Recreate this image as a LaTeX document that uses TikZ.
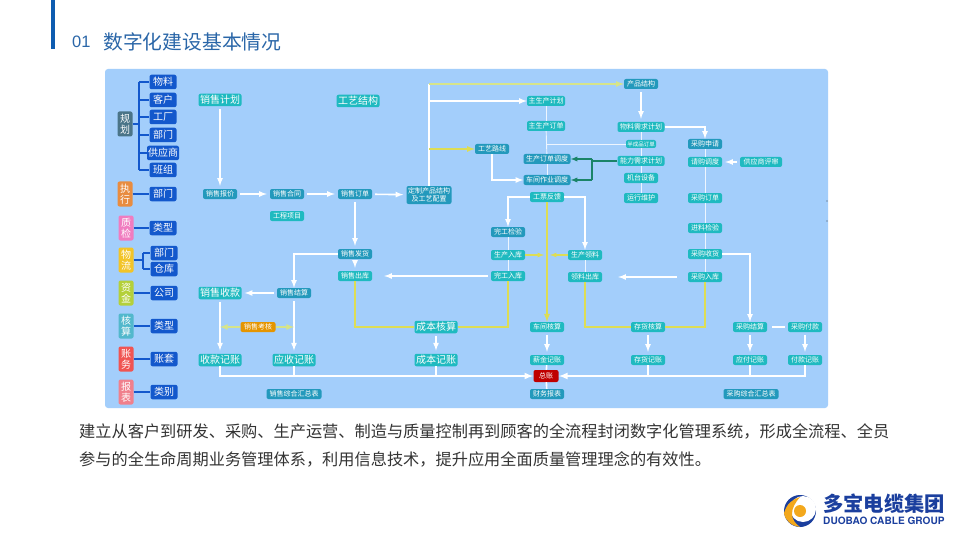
\documentclass[tikz,border=0pt]{standalone}
\usepackage{fontspec}
\setmainfont{Noto Sans CJK SC}
\newfontfamily\latinbold{TeX Gyre Heros}
\newfontfamily\latinplain{Liberation Sans}
\usepackage{xcolor}
\usetikzlibrary{arrows, positioning, calc}
\definecolor{panelblue}{HTML}{A3CEFB}
\definecolor{tealbright}{HTML}{1FBAC0}
\definecolor{tealdark}{HTML}{2399BC}
\definecolor{treeblue}{HTML}{1358CC}
\definecolor{barblue}{HTML}{0E5CB0}
\definecolor{titleblue}{HTML}{2A66A8}
\definecolor{paleyellow}{HTML}{D6E48A}
\definecolor{strongyellow}{HTML}{DDDD55}
\definecolor{capgreen}{HTML}{1A8468}
\definecolor{logoblue}{HTML}{1B3F9E}
\definecolor{logogold}{HTML}{F3A81C}
\definecolor{sideslate}{HTML}{4A7488}
\definecolor{sideorange}{HTML}{E88C40}
\definecolor{sidepink}{HTML}{F07CC0}
\definecolor{sideyellow}{HTML}{F2C428}
\definecolor{sidelime}{HTML}{B4D03A}
\definecolor{sidecyan}{HTML}{52B8CC}
\definecolor{sidered}{HTML}{F05452}
\definecolor{sidesalmon}{HTML}{F0808C}
\tikzset{
	flowbox/.style={rounded corners=2pt, inner sep=0pt, text=white, align=center, font=\fontsize{7}{8}\selectfont, minimum height=10pt, minimum width=34pt},
	bright/.style={flowbox, fill=tealbright},
	dull/.style={flowbox, fill=tealdark},
	bigbox/.style={flowbox, fill=tealbright, font=\fontsize{10}{11}\selectfont, minimum width=43pt, minimum height=12.5pt},
	itembox/.style={flowbox, fill=treeblue, font=\fontsize{10}{10}\selectfont, minimum width=27pt, minimum height=14.5pt},
	sidebox/.style={flowbox, font=\fontsize{10}{11}\selectfont, minimum width=15pt, minimum height=25pt},
	whiteline/.style={draw=white, line width=1.6pt, -latex},
	gapline/.style={whiteline, shorten <=3pt, shorten >=3pt},
	plainline/.style={draw=white, line width=1.6pt},
	thinline/.style={draw=white!80!panelblue, line width=0.9pt},
	yellowline/.style={draw=strongyellow, line width=1.7pt},
	capline/.style={draw=capgreen, line width=1.3pt},
	treeline/.style={draw=treeblue, line width=1.5pt}
}
\begin{document}
\begin{tikzpicture}[x=1pt, y=-1pt]
	\useasboundingbox (0,0) rectangle (960,540);
	\fill[white] (0,0) rectangle (960,540);
	\fill[barblue] (51,0) rectangle (55,49);
	\node[anchor=west, inner sep=0pt, text=titleblue, font=\fontsize{16.5}{18}\latinplain] (titlenum) at (72,42) {01};
	\node[anchor=west, inner sep=0pt, text=titleblue, font=\fontsize{19.8}{20}\selectfont] (title) at (103,42) {数字化建设基本情况};
	\fill[panelblue, rounded corners=3pt] (105,69) rectangle (828,408);
	\fill[black!70] (827,201) circle (0.6pt) (827,221) circle (0.6pt);

	\node[sidebox, fill=sideslate] (guihua) at (125,124) {规\\划};
	\node[sidebox, fill=sideorange] (zhixing) at (125,194) {执\\行};
	\node[sidebox, fill=sidepink] (zhijian) at (126,228) {质\\检};
	\node[sidebox, fill=sideyellow] (wuliu) at (126,260) {物\\流};
	\node[sidebox, fill=sidelime] (zijin) at (126,293) {资\\金};
	\node[sidebox, fill=sidecyan] (hesuan) at (126,326) {核\\算};
	\node[sidebox, fill=sidered] (zhangwu) at (126,359) {账\\务};
	\node[sidebox, fill=sidesalmon] (baobiao) at (126,392) {报\\表};

	\foreach \name/\xx/\yy/\txt in {wuliao/163/82/物料, kehu/163/100/客户, gongchang/163/117/工厂, bumenA/163/135/部门, banzu/163/170/班组, bumenB/163/194/部门, leixingA/163/228/类型, bumenC/164/253/部门, cangku/164/269/仓库, gongsi/164/293/公司, leixingB/164/326/类型, zhangtao/164/359/账套, leibie/164/392/类别}
		\node[itembox] (\name) at (\xx,\yy) {\txt};
	\node[itembox, minimum width=32pt] (gongyingshang) at (163,153) {供应商};

	\coordinate (trunk) at (139,124);
	\draw[treeline] (guihua) -- (trunk);
	\draw[treeline] (wuliao -| trunk) -- (banzu -| trunk);
	\foreach \name in {wuliao, kehu, gongchang, bumenA, gongyingshang, banzu}
		\draw[treeline] (\name -| trunk) -- (\name);
	\draw[treeline] (zhixing) -- (bumenB);
	\draw[treeline] (zhijian) -- (leixingA);
	\coordinate (fork) at (143,260);
	\draw[treeline] (wuliu) -- (fork);
	\draw[treeline] (bumenC -| fork) -- (cangku -| fork);
	\draw[treeline] (bumenC -| fork) -- (bumenC);
	\draw[treeline] (cangku -| fork) -- (cangku);
	\draw[treeline] (zijin) -- (gongsi);
	\draw[treeline] (hesuan) -- (leixingB);
	\draw[treeline] (zhangwu) -- (zhangtao);
	\draw[treeline] (baobiao) -- (leibie);

	\foreach \name/\xx/\yy/\txt in {xsjihua/220/100/销售计划, gyjiegou/358/101/工艺结构, xsshoukuan/220/293/销售收款, skjizhang/220/360/收款记账, ysjizhang/294/360/应收记账, cbhesuan/436/327/成本核算, cbjizhang/436/360/成本记账}
		\node[bigbox] (\name) at (\xx,\yy) {\txt};

	\foreach \name/\xx/\yy/\txt in {xsbaojia/220/194/销售报价, xshetong/287/194/销售合同, xsdingdan/355/194/销售订单, gyluxian/492/149/工艺路线, wgjianyan/508/232/完工检验, xsfahuo/355/254/销售发货, xsjiesuan/294/293/销售结算, cpjiegou/641/84/产品结构, cgshenqing/705/144/采购申请, cwbaobiao/547/394/财务报表}
		\node[dull] (\name) at (\xx,\yy) {\txt};

	\foreach \name/\xx/\yy/\txt in {gcxiangmu/287/216/工程项目, xschuku/355/276/销售出库, gongpiao/547/197/工票反馈, scruku/508/255/生产入库, wgruku/508/276/完工入库, sclingliao/585/255/生产领料, llchuku/585/277/领料出库, cjhesuan/547/327/车间核算, xjjizhang/547/360/薪金记账, jitai/641/178/机台设备, yunxing/641/198/运行维护, qinggou/705/162/请购调度, cgdingdan/705/198/采购订单, jinliao/705/228/进料检验, cgshouhuo/705/254/采购收货, cgruku/705/277/采购入库, chhesuan/648/327/存货核算, chjizhang/648/360/存货记账, cgjiesuan/750/327/采购结算, cgfukuan/805/327/采购付款, yfjizhang/750/360/应付记账, fkjizhang/805/360/付款记账}
		\node[bright] (\name) at (\xx,\yy) {\txt};

	\node[dull, minimum width=45pt, minimum height=18pt] (dingzhi) at (429,195) {定制产品结构\\及工艺配置};
	\node[bright, minimum width=38pt] (zsjihua) at (546,101) {主生产计划};
	\node[bright, minimum width=38pt] (zsdingdan) at (546,126) {主生产订单};
	\node[dull, minimum width=47pt] (scdiaodu) at (547,159) {生产订单调度};
	\node[dull, minimum width=47pt] (cjdiaodu) at (547,180) {车间作业调度};
	\node[bright, minimum width=47pt] (wlxuqiu) at (641,127) {物料需求计划};
	\node[bright, minimum width=30pt, minimum height=8pt, font=\fontsize{5.5}{6}\selectfont] (bcpdingdan) at (641,144) {半成品订单};
	\node[bright, minimum width=47pt] (nlxuqiu) at (641,161) {能力需求计划};
	\node[bright, minimum width=42pt] (gyspingshen) at (761,162) {供应商评审};
	\node[dull, minimum width=55pt] (xshuizong) at (294,394) {销售综合汇总表};
	\node[dull, minimum width=55pt] (cghuizong) at (751,394) {采购综合汇总表};
	\node[flowbox, fill=orange!70!yellow!90!black, minimum width=35pt] (xskaohe) at (258,327) {销售考核};
	\node[flowbox, fill=red!75!black, minimum width=25pt, minimum height=12pt] (zongzhang) at (546,376) {总账};

	\draw[gapline] (xsjihua) -- (xsbaojia);
	\draw[gapline] (xsbaojia) -- (xshetong);
	\draw[gapline] (xshetong) -- (xsdingdan);
	\draw[gapline] (xsdingdan) -- (dingzhi);
	\draw[gapline] (xsdingdan) -- (xsfahuo);
	\draw[gapline] (xsfahuo) -- (xschuku);
	\draw[whiteline] (xsfahuo) -| (xsjiesuan);
	\draw[gapline] (xsjiesuan) -- (xsshoukuan);
	\draw[gapline] (xsshoukuan) -- (skjizhang);
	\draw[gapline] (xsjiesuan) -- (ysjizhang);
	\draw[whiteline, draw=paleyellow] (xskaohe) -- (xskaohe -| skjizhang);
	\draw[whiteline, draw=paleyellow] (xskaohe) -- (xskaohe -| ysjizhang);

	\coordinate (topcorner) at (dingzhi |- cpjiegou);
	\draw[plainline] (dingzhi) -- (topcorner);
	\draw[whiteline, draw=paleyellow] (topcorner) -- (cpjiegou);
	\draw[whiteline] (dingzhi |- zsjihua) -- (zsjihua);
	\draw[whiteline, draw=strongyellow] (dingzhi |- gyluxian) -- (gyluxian);
	\draw[whiteline] (gyluxian) |- (cjdiaodu);
	\draw[thinline] (zsjihua) -- (zsdingdan);
	\draw[thinline] (zsdingdan) -- (scdiaodu);
	\draw[thinline] (scdiaodu) -- (cjdiaodu);
	\draw[thinline] (zsdingdan |- bcpdingdan) -- (bcpdingdan);

	\coordinate (capcorner) at (592,161);
	\draw[capline] (nlxuqiu) -- (capcorner);
	\draw[capline] (capcorner |- scdiaodu) -- (capcorner |- cjdiaodu);
	\draw[capline, -latex] (capcorner |- scdiaodu) -- (scdiaodu);
	\draw[capline, -latex] (capcorner |- cjdiaodu) -- (cjdiaodu);

	\draw[whiteline] (gongpiao) -| (wgjianyan);
	\draw[whiteline] (gongpiao) -| (sclingliao);
	\draw[yellowline, -latex] (gongpiao) -- (cjhesuan);
	\draw[thinline] (wgjianyan) -- (scruku);
	\draw[thinline] (scruku) -- (wgruku);
	\draw[thinline] (sclingliao) -- (llchuku);
	\draw[whiteline, shorten <=3pt, shorten >=12pt] (wgruku) -- (xschuku);
	\draw[whiteline, shorten <=11pt, shorten >=16pt] (cgruku) -- (llchuku);
	\coordinate (midyellow) at (547,255);
	\draw[whiteline, draw=strongyellow, line width=1.2pt, shorten >=3pt] (scruku) -- (midyellow);
	\draw[whiteline, draw=strongyellow, line width=1.2pt, shorten >=3pt] (sclingliao) -- (midyellow);

	\draw[yellowline] (xschuku) |- (cbhesuan);
	\draw[yellowline] (wgruku) |- (cbhesuan);
	\draw[yellowline] (llchuku) |- (chhesuan);
	\draw[yellowline] (cgruku) |- (chhesuan);
	\draw[gapline] (cbhesuan) -- (cbjizhang);
	\draw[gapline] (chhesuan) -- (chjizhang);
	\draw[gapline] (cjhesuan) -- (xjjizhang);
	\draw[plainline] (xjjizhang) -- (zongzhang);
	\draw[plainline] (zongzhang) -- (cwbaobiao);

	\draw[whiteline, line width=2pt] (skjizhang) |- (zongzhang);
	\draw[plainline, line width=2pt] (ysjizhang) -- (ysjizhang |- zongzhang);
	\draw[plainline, line width=2pt] (cbjizhang) -- (cbjizhang |- zongzhang);
	\draw[whiteline, line width=2pt] (fkjizhang) |- (zongzhang);
	\draw[plainline, line width=2pt] (yfjizhang) -- (yfjizhang |- zongzhang);
	\draw[plainline, line width=2pt] (chjizhang) -- (chjizhang |- zongzhang);

	\draw[gapline] (cpjiegou) -- (wlxuqiu);
	\draw[thinline] (wlxuqiu) -- (bcpdingdan);
	\draw[thinline] (bcpdingdan) -- (nlxuqiu);
	\draw[thinline] (nlxuqiu) -- (jitai);
	\draw[thinline] (jitai) -- (yunxing);
	\draw[whiteline] (wlxuqiu) -| (cgshenqing);
	\draw[thinline] (cgshenqing) -- (qinggou);
	\draw[gapline] (gyspingshen) -- (qinggou);
	\draw[thinline] (qinggou) -- (cgdingdan);
	\draw[thinline] (cgdingdan) -- (jinliao);
	\draw[thinline] (jinliao) -- (cgshouhuo);
	\draw[thinline] (cgshouhuo) -- (cgruku);
	\draw[whiteline] (cgshouhuo) -| (cgjiesuan);
	\draw[gapline] (cgjiesuan) -- (yfjizhang);
	\draw[gapline] (cgfukuan) -- (fkjizhang);
	\draw[plainline] ($(cgjiesuan)!0.4!(cgfukuan)$) -- ($(cgjiesuan)!0.64!(cgfukuan)$);

	\node[anchor=west, inner sep=0pt, text=black!80, font=\fontsize{16.2}{17}\selectfont] (bodyA) at (79,431) {建立从客户到研发、采购、生产运营、制造与质量控制再到顾客的全流程封闭数字化管理系统，形成全流程、全员};
	\node[anchor=west, inner sep=0pt, text=black!80, font=\fontsize{16.2}{17}\selectfont] (bodyB) at (79,459) {参与的全生命周期业务管理体系，利用信息技术，提升应用全面质量管理理念的有效性。};

	\fill[logoblue] (800,511) circle (16);
	\fill[white] (803,509) circle (13);
	\fill[logogold] (800,511) circle (6);
	\fill[logogold] (784,513) .. controls (787,503) and (793,499) .. (800,497) .. controls (795,503) and (792,508) .. (792,514) .. controls (792,520) and (796,524) .. (800,527) .. controls (792,526) and (785,521) .. (784,513) -- cycle;
	\node[anchor=west, inner sep=0pt, text=logoblue, font=\bfseries\fontsize{20.3}{21}\selectfont] (logotext) at (823,504) {多宝电缆集团};
	\node[anchor=west, inner sep=0pt, text=logoblue, font=\latinbold\bfseries\fontsize{10.1}{11}\selectfont] (logolatin) at (823,521) {DUOBAO CABLE GROUP};
\end{tikzpicture}
\end{document}
